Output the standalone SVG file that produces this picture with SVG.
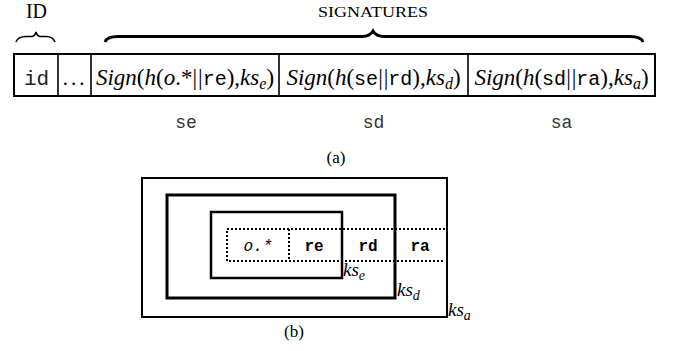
<svg xmlns="http://www.w3.org/2000/svg" width="673" height="351" viewBox="0 0 673 351">
<style>
.serif{font-family:"Liberation Serif","Times New Roman",serif;fill:#000}
.it{font-style:italic}
.mono{font-family:"Liberation Mono","Courier New",monospace}
.cell{font-family:"Liberation Serif","Times New Roman",serif;font-size:23px;text-anchor:middle}
.ln{fill:none;stroke:#000}
.dot{fill:none;stroke:#000;stroke-width:2;stroke-dasharray:2 2}
.lbl{font-family:"Liberation Mono",monospace;font-size:18px;text-anchor:middle;fill:#333}
.ks{font-family:"Liberation Serif",serif;font-style:italic;font-size:19px}
.inner{font-family:"Liberation Mono",monospace;font-size:16px;font-weight:bold;text-anchor:middle}
</style>
<rect width="673" height="351" fill="#fff"/>
<g id="headers">
<text class="serif" x="36.5" y="18" font-size="20" text-anchor="middle">ID</text>
<text class="serif" x="373" y="17" font-size="15.5" text-anchor="middle" textLength="110" lengthAdjust="spacingAndGlyphs">SIGNATURES</text>
</g>
<g id="braces">
<path class="ln" stroke-width="1.6" d="M16,42 Q18,36.5 26,36.5 L32,36.5 Q35,36 36,32 Q37,36 40,36.5 L46,36.5 Q53,36.5 55,42"/>
<path class="ln" stroke-width="2.8" d="M105,42 Q107,36.5 118,36.5 L362,36.5 Q370,36.5 373,31 Q376,36.5 384,36.5 L630,36.5 Q641,36.5 643,42"/>
</g>
<g id="table">
<rect class="ln" stroke-width="2" x="14" y="54" width="641" height="42"/>
<path class="ln" stroke-width="1.6" d="M58,54V96M91,54V96M279,54V96M468,54V96"/>
</g>
<g id="cell-id"><text class="mono" x="36.5" y="85" font-size="21" text-anchor="middle" fill="#222">id</text></g>
<g id="cell-dots"><text class="serif" x="75" y="85" font-size="21" text-anchor="middle" letter-spacing="3">...</text></g>
<g id="cell-se">
<text class="cell" x="185" y="85"><tspan class="it">Sign</tspan>(<tspan class="it">h</tspan>(<tspan class="it">o</tspan>.*|<tspan dx="1">|</tspan><tspan class="mono" font-size="20">re</tspan>),<tspan class="it">ks</tspan><tspan class="it" font-size="16" dy="4">e</tspan><tspan dy="-4">)</tspan></text>
</g>
<g id="cell-sd">
<text class="cell" x="373.5" y="85"><tspan class="it">Sign</tspan>(<tspan class="it">h</tspan>(<tspan class="mono" font-size="20">se</tspan>|<tspan dx="1">|</tspan><tspan class="mono" font-size="20">rd</tspan>),<tspan class="it">ks</tspan><tspan class="it" font-size="16" dy="4">d</tspan><tspan dy="-4">)</tspan></text>
</g>
<g id="cell-sa">
<text class="cell" x="561.5" y="85"><tspan class="it">Sign</tspan>(<tspan class="it">h</tspan>(<tspan class="mono" font-size="20">sd</tspan>|<tspan dx="1">|</tspan><tspan class="mono" font-size="20">ra</tspan>),<tspan class="it">ks</tspan><tspan class="it" font-size="16" dy="4">a</tspan><tspan dy="-4">)</tspan></text>
</g>
<g id="labels">
<text class="lbl" x="186" y="128">se</text>
<text class="lbl" x="373.5" y="128">sd</text>
<text class="lbl" x="561.5" y="128">sa</text>
<text class="serif" x="336" y="163" font-size="17" text-anchor="middle">(a)</text>
</g>
<g id="box-ksa">
<rect class="ln" stroke-width="2" x="142" y="178" width="305" height="139"/>
<text class="ks" x="448" y="316">ks<tspan font-size="14" dy="4">a</tspan></text>
</g>
<g id="box-ksd">
<rect class="ln" stroke-width="3" x="167" y="195" width="228" height="103"/>
<text class="ks" x="397" y="296">ks<tspan font-size="14" dy="4">d</tspan></text>
</g>
<g id="box-kse">
<rect class="ln" stroke-width="2.5" x="211" y="212" width="131" height="66"/>
<text class="ks" x="343" y="276">ks<tspan font-size="14" dy="4">e</tspan></text>
</g>
<g id="message">
<path class="dot" d="M445,229H227V261H445M289,229V261"/>
<text class="mono" x="258" y="251" font-size="16" font-style="italic" text-anchor="middle">o.*</text>
<text class="inner" x="314" y="251">re</text>
<text class="inner" x="368" y="251">rd</text>
<text class="inner" x="420" y="251">ra</text>
</g>
<g id="caption-b"><text class="serif" x="294" y="337" font-size="17" text-anchor="middle">(b)</text></g>
</svg>
